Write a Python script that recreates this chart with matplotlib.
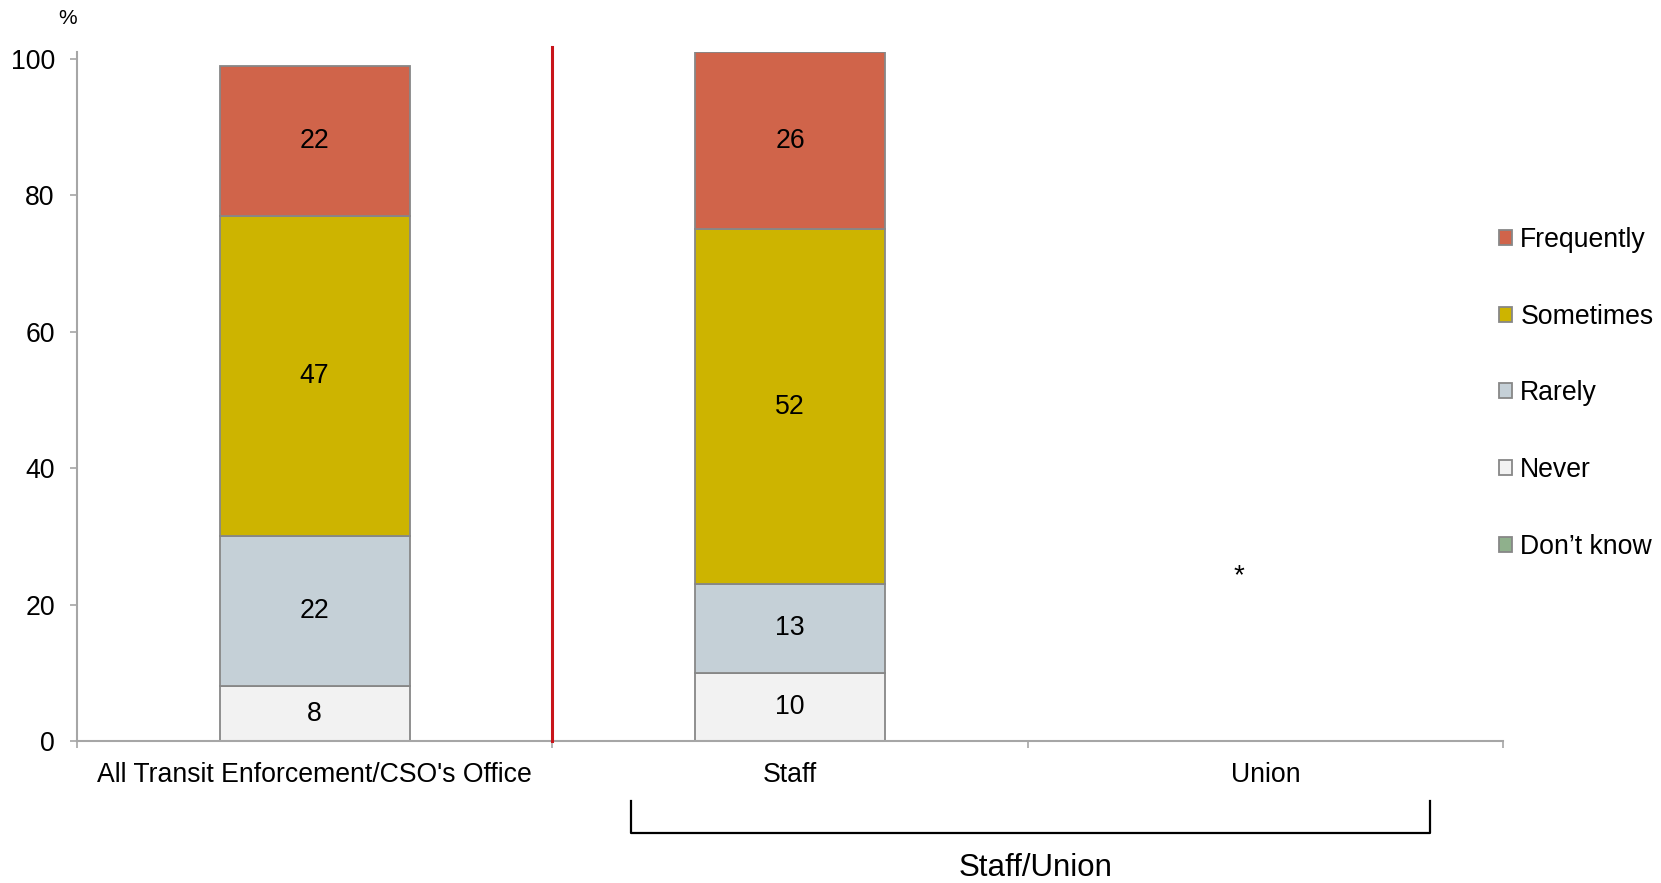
import numpy as np
import matplotlib.pyplot as plt
from matplotlib.patches import Patch
from matplotlib.transforms import blended_transform_factory

plt.rcParams['font.family'] = ['Liberation Sans', 'DejaVu Sans']

categories = ["All Transit Enforcement/CSO's Office", "Staff", "Union"]
series = ["Frequently", "Sometimes", "Rarely", "Never", "Don\u2019t know"]
colors = ["#D0644A", "#CDB400", "#C5D0D7", "#F2F2F2", "#8FB08C"]

# stacked from the bottom: Never, Rarely, Sometimes, Frequently (Don't know = 0)
never = [8, 10, None]
rarely = [22, 13, None]
sometimes = [47, 52, None]
frequently = [22, 26, None]
dont_know = [0, 0, None]
union_note = "*"

stack = [("Never", never, colors[3]),
         ("Rarely", rarely, colors[2]),
         ("Sometimes", sometimes, colors[1]),
         ("Frequently", frequently, colors[0])]

fig = plt.figure(figsize=(16.61, 8.83), dpi=100)
ax = fig.add_axes([77 / 1661, 142 / 883, 1426 / 1661, 689 / 883])

fs = 19.2
edge = "#878787"
axis_col = "#A6A6A6"
x = np.arange(len(categories))
bottom = np.zeros(len(categories))
for name, vals, col in stack:
    for i, v in enumerate(vals):
        if v is None:
            continue
        ax.bar(x[i], v, bottom=bottom[i], width=0.40, color=col,
               edgecolor=edge, linewidth=1.3, zorder=2)
        ax.text(x[i], bottom[i] + v / 2, str(v), ha="center", va="center",
                fontsize=fs, color="black", zorder=3)
        bottom[i] += v

# union has too few answers to show
ax.text(1.945, 24.2, union_note, ha="center", va="center", fontsize=20)

ax.set_xlim(-0.5, 2.5)
ax.set_ylim(0, 101)
ax.set_yticks(np.arange(0, 101, 20))
ax.set_xticks([-0.5, 0.5, 1.5, 2.5])
ax.set_xticklabels([])
ax.set_xticks(x, minor=True)
ax.set_xticklabels(categories, minor=True)
ax.tick_params(axis="x", which="major", direction="out", length=5,
               width=1.2, color=axis_col)
ax.tick_params(axis="x", which="minor", length=0, pad=15, labelsize=fs)
ax.tick_params(axis="y", direction="out", length=5, width=1.2,
               color=axis_col, pad=11, labelsize=fs)
for s in ["top", "right"]:
    ax.spines[s].set_visible(False)
for s in ["left", "bottom"]:
    ax.spines[s].set_color(axis_col)
    ax.spines[s].set_linewidth(1.5)

# divider between the overall bar and the staff/union breakdown
ax.plot([0.5, 0.5], [0, 101.7], color="#C8141A", lw=2.2, clip_on=False, zorder=4)

tr = blended_transform_factory(ax.transData, ax.transAxes)
ax.text(-0.52, 1.048, "%", transform=tr, ha="center", va="center", fontsize=15)

# bracket grouping Staff and Union
bx0, bx1 = 0.666, 2.347
ax.plot([bx0, bx0, bx1, bx1], [-0.087, -0.1335, -0.1335, -0.087], transform=tr,
        color="black", lw=1.6, clip_on=False, solid_joinstyle="round")
ax.text((bx0 + bx1) / 2 + 0.01, -0.185, "Staff/Union", transform=tr,
        ha="center", va="center", fontsize=22.5)

handles = [Patch(facecolor=c, edgecolor=edge, linewidth=1.3) for c in colors]
ax.legend(handles, series, loc="upper left", bbox_to_anchor=(1499 / 1661, 1 - 227 / 883),
          bbox_transform=fig.transFigure, frameon=False, fontsize=fs,
          handlelength=0.5, handleheight=0.5, handletextpad=0.3,
          labelspacing=1.9, borderpad=0, borderaxespad=0)

fig.savefig("out.png", dpi=100)
